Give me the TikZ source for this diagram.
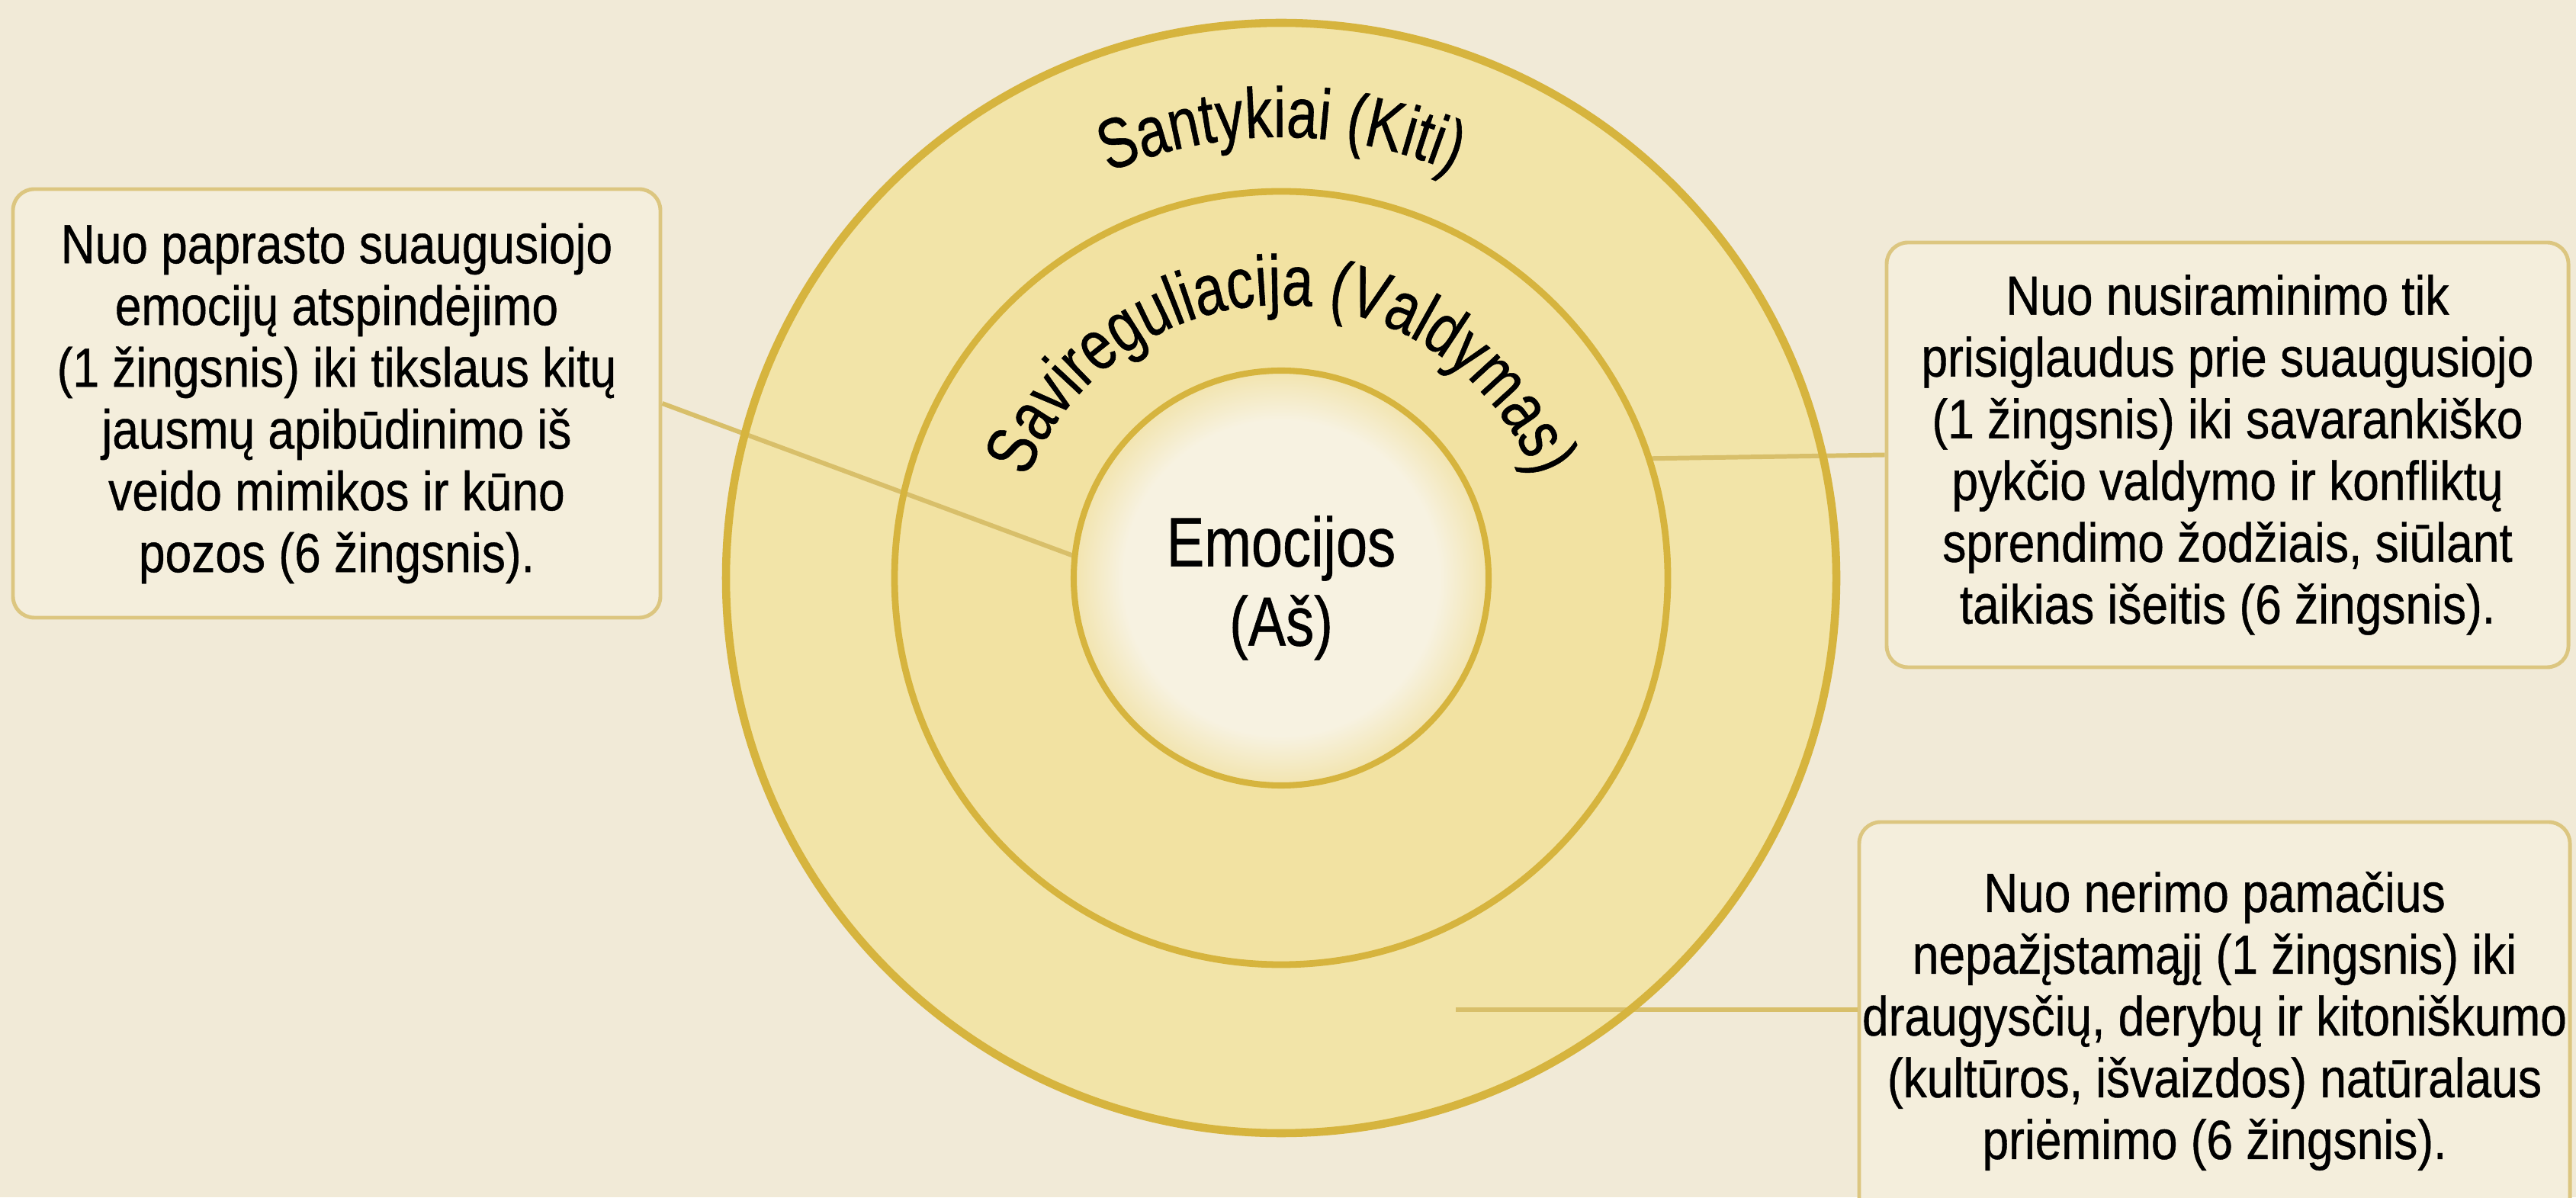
\documentclass[tikz,border=0pt]{standalone}
\usepackage{fontspec}
\newfontfamily\dgnarrow{Liberation Sans}[FakeStretch=0.86,FakeBold=0.6]
\newfontfamily\dgnarrowc{Liberation Sans}[FakeStretch=0.78,FakeBold=0.6]
\newfontfamily\dgnarrowm{Liberation Sans}[FakeStretch=0.81,FakeBold=0.6]
\usetikzlibrary{decorations.text,calc}
\definecolor{bgcol}{HTML}{F1EAD7}
\definecolor{outerfill}{HTML}{F2E4A8}
\definecolor{midfill}{HTML}{F2E2A2}
\definecolor{innerc}{HTML}{F7F2E1}
\definecolor{inneredge}{HTML}{F2E4AE}
\definecolor{ringcol}{HTML}{D6B43E}
\definecolor{conncol}{HTML}{D8BF6A}
\definecolor{boxline}{HTML}{DCC680}
\definecolor{boxfill}{HTML}{F4EEDC}
\pgfdeclareradialshading{innerglow}{\pgfpoint{0bp}{0bp}}{color(0bp)=(innerc); color(19bp)=(innerc); color(25bp)=(inneredge); color(50bp)=(inneredge)}
\newcommand\dgboxfont{\dgnarrow\fontsize{20.6pt}{23.05pt}\selectfont}
\newcommand\dgcurvefont{\dgnarrowc\fontsize{26.5pt}{31pt}\selectfont}
\newcommand\dgcenterfont{\dgnarrowm\fontsize{26pt}{29.6pt}\selectfont}
\begin{document}
\begin{tikzpicture}[
  conn/.style={draw=conncol, line width=1.7pt},
  infobox/.style={draw=boxline, line width=1.4pt, fill=boxfill, rounded corners=0.28cm, align=center, font=\dgboxfont, inner sep=0pt},
  disc/.style={circle, inner sep=0pt, outer sep=0pt},
  ringline/.style={draw=ringcol}
]
\useasboundingbox (0,0) rectangle (33.78,15.70);
\clip (0,0) rectangle (33.78,15.70);
\fill[bgcol] (0,0) rectangle (33.78,15.70);

% discs (fills)
\node[disc, minimum size=14.56cm, fill=outerfill] (outer) at (16.80,8.12) {};
\node[disc, minimum size=10.14cm, fill=midfill] (middle) at (16.80,8.12) {};
\node[disc, minimum size=5.44cm, shade, shading=innerglow] (inner) at (16.80,8.12) {};

% boxes
\node[infobox, minimum width=8.49cm, minimum height=5.62cm] (b1) at (4.415,10.41)
  {Nuo paprasto suaugusiojo\\emocijų atspindėjimo\\(1 žingsnis) iki tikslaus kitų\\jausmų apibūdinimo iš\\veido mimikos ir kūno\\pozos (6 žingsnis).};
\node[infobox, minimum width=8.94cm, minimum height=5.57cm] (b2) at (29.21,9.735)
  {Nuo nusiraminimo tik\\prisiglaudus prie suaugusiojo\\(1 žingsnis) iki savarankiško\\pykčio valdymo ir konfliktų\\sprendimo žodžiais, siūlant\\taikias išeitis (6 žingsnis).};
\node[infobox, minimum width=9.32cm, minimum height=5.22cm] (b3) at (29.04,2.31)
  {Nuo nerimo pamačius\\nepažįstamąjį (1 žingsnis) iki\\draugysčių, derybų ir kitoniškumo\\(kultūros, išvaizdos) natūralaus\\priėmimo (6 žingsnis).};

% connectors
\coordinate (p3) at (19.09,2.46);
\draw[conn] (b1.east) -- (inner.174.7);
\draw[conn] (b2.west) -- (middle.18.5);
\draw[conn] (p3) -- (p3 -| b3.west);

% ring outlines
\draw[ringline, line width=3pt] (outer.center) circle[radius=7.28cm];
\draw[ringline, line width=2.5pt] (middle.center) circle[radius=5.07cm];
\draw[ringline, line width=2.3pt] (inner.center) circle[radius=2.72cm];

% curved labels
\path[decorate, decoration={text along path, text align=center, text={|\dgcurvefont|Santykiai (Kiti)}}]
  ($(outer.center)+(170:5.78)$) arc[start angle=170, end angle=10, radius=5.78cm];
\path[decorate, decoration={text along path, text align=center, text={|\dgcurvefont|Savireguliacija (Valdymas)}}]
  ($(middle.center)+(178:3.58)$) arc[start angle=178, end angle=2, radius=3.58cm];

% centre label
\node[font=\dgcenterfont, align=center, inner sep=0pt] (emo) at (16.80,7.99) {Emocijos\\(Aš)};
\end{tikzpicture}
\end{document}
